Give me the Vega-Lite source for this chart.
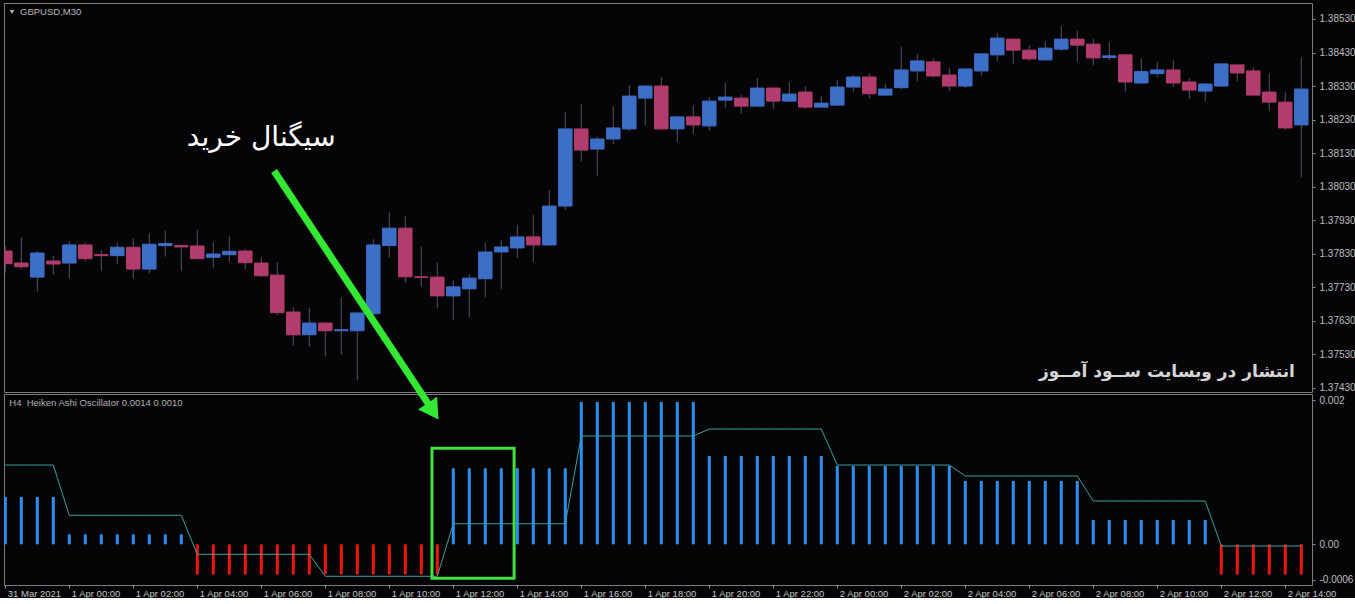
{
  "$schema": "https://vega.github.io/schema/vega-lite/v6.json",
  "background": "#050507",
  "padding": {"left": 2, "top": 2, "right": 0, "bottom": 0},
  "spacing": 2,
  "bounds": "flush",
  "config": {
    "view": {"stroke": "#7c7c7c", "strokeWidth": 1},
    "font": "Liberation Sans",
    "axis": {"labelOverlap": false}
  },
  "datasets": {
    "bars": [
      {"t":"2021-03-31T22:00","o":1.37838,"h":1.37853,"l":1.37773,"c":1.37800,"osc":0.000657,"sig":0.001101},
      {"t":"2021-03-31T22:30","o":1.37802,"h":1.37878,"l":1.37783,"c":1.37791,"osc":0.000657,"sig":0.001101},
      {"t":"2021-03-31T23:00","o":1.37760,"h":1.37838,"l":1.37717,"c":1.37832,"osc":0.000657,"sig":0.001101},
      {"t":"2021-03-31T23:30","o":1.37808,"h":1.37823,"l":1.37768,"c":1.37799,"osc":0.000657,"sig":0.001101},
      {"t":"2021-04-01T00:00","o":1.37802,"h":1.37868,"l":1.37757,"c":1.37856,"osc":0.000139,"sig":0.000403},
      {"t":"2021-04-01T00:30","o":1.37856,"h":1.37864,"l":1.37806,"c":1.37815,"osc":0.000139,"sig":0.000403},
      {"t":"2021-04-01T01:00","o":1.37827,"h":1.37840,"l":1.37778,"c":1.37824,"osc":0.000139,"sig":0.000403},
      {"t":"2021-04-01T01:30","o":1.37824,"h":1.37864,"l":1.37798,"c":1.37849,"osc":0.000139,"sig":0.000403},
      {"t":"2021-04-01T02:00","o":1.37849,"h":1.37876,"l":1.37755,"c":1.37784,"osc":0.000139,"sig":0.000403},
      {"t":"2021-04-01T02:30","o":1.37784,"h":1.37891,"l":1.37772,"c":1.37858,"osc":0.000139,"sig":0.000403},
      {"t":"2021-04-01T03:00","o":1.37854,"h":1.37898,"l":1.37821,"c":1.37860,"osc":0.000139,"sig":0.000403},
      {"t":"2021-04-01T03:30","o":1.37854,"h":1.37855,"l":1.37778,"c":1.37850,"osc":0.000139,"sig":0.000403},
      {"t":"2021-04-01T04:00","o":1.37853,"h":1.37901,"l":1.37813,"c":1.37815,"osc":-0.000417,"sig":-0.000139},
      {"t":"2021-04-01T04:30","o":1.37819,"h":1.37864,"l":1.37788,"c":1.37829,"osc":-0.000417,"sig":-0.000139},
      {"t":"2021-04-01T05:00","o":1.37827,"h":1.37883,"l":1.37806,"c":1.37837,"osc":-0.000417,"sig":-0.000139},
      {"t":"2021-04-01T05:30","o":1.37838,"h":1.37843,"l":1.37784,"c":1.37803,"osc":-0.000417,"sig":-0.000139},
      {"t":"2021-04-01T06:00","o":1.37802,"h":1.37820,"l":1.37760,"c":1.37764,"osc":-0.000417,"sig":-0.000139},
      {"t":"2021-04-01T06:30","o":1.37766,"h":1.37805,"l":1.37647,"c":1.37654,"osc":-0.000417,"sig":-0.000139},
      {"t":"2021-04-01T07:00","o":1.37656,"h":1.37671,"l":1.37555,"c":1.37588,"osc":-0.000417,"sig":-0.000139},
      {"t":"2021-04-01T07:30","o":1.37588,"h":1.37669,"l":1.37552,"c":1.37623,"osc":-0.000417,"sig":-0.000139},
      {"t":"2021-04-01T08:00","o":1.37623,"h":1.37623,"l":1.37523,"c":1.37600,"osc":-0.000417,"sig":-0.000444},
      {"t":"2021-04-01T08:30","o":1.37600,"h":1.37699,"l":1.37528,"c":1.37603,"osc":-0.000417,"sig":-0.000444},
      {"t":"2021-04-01T09:00","o":1.37600,"h":1.37656,"l":1.37452,"c":1.37653,"osc":-0.000417,"sig":-0.000444},
      {"t":"2021-04-01T09:30","o":1.37651,"h":1.37873,"l":1.37609,"c":1.37856,"osc":-0.000417,"sig":-0.000444},
      {"t":"2021-04-01T10:00","o":1.37854,"h":1.37954,"l":1.37818,"c":1.37906,"osc":-0.000417,"sig":-0.000444},
      {"t":"2021-04-01T10:30","o":1.37906,"h":1.37942,"l":1.37743,"c":1.37761,"osc":-0.000417,"sig":-0.000444},
      {"t":"2021-04-01T11:00","o":1.37761,"h":1.37850,"l":1.37731,"c":1.37759,"osc":-0.000417,"sig":-0.000444},
      {"t":"2021-04-01T11:30","o":1.37760,"h":1.37803,"l":1.37667,"c":1.37704,"osc":-0.000417,"sig":-0.000444},
      {"t":"2021-04-01T12:00","o":1.37704,"h":1.37751,"l":1.37631,"c":1.37731,"osc":0.001056,"sig":0.000286},
      {"t":"2021-04-01T12:30","o":1.37725,"h":1.37769,"l":1.37641,"c":1.37757,"osc":0.001056,"sig":0.000286},
      {"t":"2021-04-01T13:00","o":1.37755,"h":1.37862,"l":1.37701,"c":1.37835,"osc":0.001056,"sig":0.000286},
      {"t":"2021-04-01T13:30","o":1.37835,"h":1.37871,"l":1.37725,"c":1.37850,"osc":0.001056,"sig":0.000286},
      {"t":"2021-04-01T14:00","o":1.37847,"h":1.37916,"l":1.37817,"c":1.37880,"osc":0.001056,"sig":0.000286},
      {"t":"2021-04-01T14:30","o":1.37880,"h":1.37945,"l":1.37805,"c":1.37856,"osc":0.001056,"sig":0.000286},
      {"t":"2021-04-01T15:00","o":1.37856,"h":1.38020,"l":1.37853,"c":1.37972,"osc":0.001056,"sig":0.000286},
      {"t":"2021-04-01T15:30","o":1.37972,"h":1.38253,"l":1.37960,"c":1.38202,"osc":0.001056,"sig":0.000286},
      {"t":"2021-04-01T16:00","o":1.38202,"h":1.38277,"l":1.38106,"c":1.38139,"osc":0.001976,"sig":0.001504},
      {"t":"2021-04-01T16:30","o":1.38142,"h":1.38179,"l":1.38062,"c":1.38172,"osc":0.001976,"sig":0.001504},
      {"t":"2021-04-01T17:00","o":1.38172,"h":1.38268,"l":1.38157,"c":1.38205,"osc":0.001976,"sig":0.001504},
      {"t":"2021-04-01T17:30","o":1.38202,"h":1.38333,"l":1.38196,"c":1.38300,"osc":0.001976,"sig":0.001504},
      {"t":"2021-04-01T18:00","o":1.38294,"h":1.38331,"l":1.38214,"c":1.38330,"osc":0.001976,"sig":0.001504},
      {"t":"2021-04-01T18:30","o":1.38330,"h":1.38357,"l":1.38199,"c":1.38202,"osc":0.001976,"sig":0.001504},
      {"t":"2021-04-01T19:00","o":1.38202,"h":1.38241,"l":1.38163,"c":1.38238,"osc":0.001976,"sig":0.001504},
      {"t":"2021-04-01T19:30","o":1.38238,"h":1.38271,"l":1.38187,"c":1.38214,"osc":0.001976,"sig":0.001504},
      {"t":"2021-04-01T20:00","o":1.38211,"h":1.38297,"l":1.38196,"c":1.38285,"osc":0.001226,"sig":0.001601},
      {"t":"2021-04-01T20:30","o":1.38288,"h":1.38339,"l":1.38265,"c":1.38297,"osc":0.001226,"sig":0.001601},
      {"t":"2021-04-01T21:00","o":1.38294,"h":1.38303,"l":1.38247,"c":1.38270,"osc":0.001226,"sig":0.001601},
      {"t":"2021-04-01T21:30","o":1.38270,"h":1.38354,"l":1.38270,"c":1.38324,"osc":0.001226,"sig":0.001601},
      {"t":"2021-04-01T22:00","o":1.38324,"h":1.38327,"l":1.38262,"c":1.38285,"osc":0.001226,"sig":0.001601},
      {"t":"2021-04-01T22:30","o":1.38285,"h":1.38342,"l":1.38282,"c":1.38306,"osc":0.001226,"sig":0.001601},
      {"t":"2021-04-01T23:00","o":1.38312,"h":1.38330,"l":1.38262,"c":1.38267,"osc":0.001226,"sig":0.001601},
      {"t":"2021-04-01T23:30","o":1.38267,"h":1.38300,"l":1.38267,"c":1.38279,"osc":0.001226,"sig":0.001601},
      {"t":"2021-04-02T00:00","o":1.38273,"h":1.38348,"l":1.38273,"c":1.38327,"osc":0.001088,"sig":0.001101},
      {"t":"2021-04-02T00:30","o":1.38327,"h":1.38363,"l":1.38312,"c":1.38357,"osc":0.001088,"sig":0.001101},
      {"t":"2021-04-02T01:00","o":1.38357,"h":1.38367,"l":1.38293,"c":1.38307,"osc":0.001088,"sig":0.001101},
      {"t":"2021-04-02T01:30","o":1.38303,"h":1.38337,"l":1.38303,"c":1.38321,"osc":0.001088,"sig":0.001101},
      {"t":"2021-04-02T02:00","o":1.38325,"h":1.38446,"l":1.38320,"c":1.38378,"osc":0.001088,"sig":0.001101},
      {"t":"2021-04-02T02:30","o":1.38375,"h":1.38426,"l":1.38345,"c":1.38405,"osc":0.001088,"sig":0.001101},
      {"t":"2021-04-02T03:00","o":1.38402,"h":1.38413,"l":1.38355,"c":1.38360,"osc":0.001088,"sig":0.001101},
      {"t":"2021-04-02T03:30","o":1.38363,"h":1.38385,"l":1.38315,"c":1.38330,"osc":0.001088,"sig":0.001101},
      {"t":"2021-04-02T04:00","o":1.38330,"h":1.38381,"l":1.38325,"c":1.38381,"osc":0.000879,"sig":0.000949},
      {"t":"2021-04-02T04:30","o":1.38375,"h":1.38426,"l":1.38360,"c":1.38426,"osc":0.000879,"sig":0.000949},
      {"t":"2021-04-02T05:00","o":1.38423,"h":1.38488,"l":1.38405,"c":1.38473,"osc":0.000879,"sig":0.000949},
      {"t":"2021-04-02T05:30","o":1.38470,"h":1.38470,"l":1.38396,"c":1.38437,"osc":0.000879,"sig":0.000949},
      {"t":"2021-04-02T06:00","o":1.38437,"h":1.38452,"l":1.38405,"c":1.38411,"osc":0.000879,"sig":0.000949},
      {"t":"2021-04-02T06:30","o":1.38408,"h":1.38464,"l":1.38405,"c":1.38443,"osc":0.000879,"sig":0.000949},
      {"t":"2021-04-02T07:00","o":1.38440,"h":1.38509,"l":1.38435,"c":1.38470,"osc":0.000879,"sig":0.000949},
      {"t":"2021-04-02T07:30","o":1.38470,"h":1.38494,"l":1.38403,"c":1.38452,"osc":0.000879,"sig":0.000949},
      {"t":"2021-04-02T08:00","o":1.38455,"h":1.38470,"l":1.38393,"c":1.38414,"osc":0.000338,"sig":0.000601},
      {"t":"2021-04-02T08:30","o":1.38415,"h":1.38461,"l":1.38406,"c":1.38420,"osc":0.000338,"sig":0.000601},
      {"t":"2021-04-02T09:00","o":1.38423,"h":1.38423,"l":1.38312,"c":1.38342,"osc":0.000338,"sig":0.000601},
      {"t":"2021-04-02T09:30","o":1.38339,"h":1.38411,"l":1.38339,"c":1.38373,"osc":0.000338,"sig":0.000601},
      {"t":"2021-04-02T10:00","o":1.38367,"h":1.38402,"l":1.38357,"c":1.38378,"osc":0.000338,"sig":0.000601},
      {"t":"2021-04-02T10:30","o":1.38378,"h":1.38408,"l":1.38327,"c":1.38339,"osc":0.000338,"sig":0.000601},
      {"t":"2021-04-02T11:00","o":1.38342,"h":1.38354,"l":1.38291,"c":1.38318,"osc":0.000338,"sig":0.000601},
      {"t":"2021-04-02T11:30","o":1.38315,"h":1.38339,"l":1.38285,"c":1.38336,"osc":0.000338,"sig":0.000601},
      {"t":"2021-04-02T12:00","o":1.38330,"h":1.38399,"l":1.38327,"c":1.38396,"osc":-0.000417,"sig":-0.000024},
      {"t":"2021-04-02T12:30","o":1.38393,"h":1.38393,"l":1.38345,"c":1.38369,"osc":-0.000417,"sig":-0.000024},
      {"t":"2021-04-02T13:00","o":1.38375,"h":1.38387,"l":1.38303,"c":1.38303,"osc":-0.000417,"sig":-0.000024},
      {"t":"2021-04-02T13:30","o":1.38312,"h":1.38366,"l":1.38255,"c":1.38282,"osc":-0.000417,"sig":-0.000024},
      {"t":"2021-04-02T14:00","o":1.38282,"h":1.38312,"l":1.38199,"c":1.38205,"osc":-0.000417,"sig":-0.000024},
      {"t":"2021-04-02T14:30","o":1.38214,"h":1.38417,"l":1.38059,"c":1.38321,"osc":-0.000417,"sig":-0.000024}
    ],
    "toptext": [
      {"t":"2021-04-01T06:00","p":1.38175,"label":"سیگنال خرید","kind":"signal"},
      {"t":"2021-04-02T14:18","p":1.37477,"label":"انتشار در وبسایت ســود آمــوز","kind":"mark"},
      {"t":"2021-03-31T22:27:36","p":1.38551,"label":"GBPUSD,M30","kind":"sym"}
    ],
    "symtri": [
      {"t":"2021-03-31T22:12:36","p":1.38551}
    ],
    "arrowline": [
      {"t1":"2021-04-01T06:24","v1":0.005185,"t2":"2021-04-01T11:16","v2":0.001919}
    ],
    "arrowhead": [
      {"t":"2021-04-01T11:22","v":0.001846}
    ],
    "box": [
      {"t1":"2021-04-01T11:20","t2":"2021-04-01T13:54","v1":0.001333,"v2":-0.000472}
    ],
    "osclabel": [
      {"t":"2021-03-31T22:07:30","v":0.001967,"label":"H4\u00a0 Heiken Ashi Oscillator 0.0014 0.0010"}
    ]
  },
  "vconcat": [
    {
      "width": 1308,
      "height": 389,
      "layer": [
        {
          "data": {"name": "bars"},
          "mark": {"type": "rule", "color": "#4e5466", "strokeWidth": 1, "clip": true},
          "encoding": {
            "x": {"field": "t", "type": "temporal",
                  "scale": {"domain": [{"year":2021,"month":3,"date":31,"hours":21,"minutes":57,"seconds":34},{"year":2021,"month":4,"date":2,"hours":14,"minutes":50,"seconds":6}], "nice": false, "padding": 0},
                  "axis": null},
            "y": {"field": "l", "type": "quantitative",
                  "scale": {"domain": [1.374173, 1.385777], "nice": false, "zero": false, "padding": 0},
                  "axis": {"orient": "right", "title": null, "grid": false, "domain": false,
                           "values": [1.3853,1.3843,1.3833,1.3823,1.3813,1.3803,1.3793,1.3783,1.3773,1.3763,1.3753,1.3743],
                           "tickCount": 30,
                           "labelExpr": "format(datum.value, '.5f')", "tickSize": 3, "tickColor": "#8a8a8a",
                           "labelOverlap": false, "labelSeparation": 0, "labelBound": false, "labelFlush": false,
                           "labelColor": "#bdbdbd", "labelFont": "Liberation Sans", "labelFontSize": 10, "labelPadding": 4}},
            "y2": {"field": "h"}
          }
        },
        {
          "data": {"name": "bars"},
          "mark": {"type": "bar", "width": 13.5, "strokeWidth": 1, "clip": true},
          "encoding": {
            "x": {"field": "t", "type": "temporal", "axis": null},
            "y": {"field": "o", "type": "quantitative"},
            "y2": {"field": "c"},
            "color": {"condition": {"test": "datum.c >= datum.o", "value": "#3d6ec8"}, "value": "#b23c6e"},
            "stroke": {"condition": {"test": "datum.c >= datum.o", "value": "#3d6ec8"}, "value": "#b23c6e"}
          }
        },
        {
          "data": {"name": "symtri"},
          "mark": {"type": "point", "shape": "triangle-down", "filled": true, "size": 22, "color": "#b0b0b0", "opacity": 1},
          "encoding": {
            "x": {"field": "t", "type": "temporal", "axis": null},
            "y": {"field": "p", "type": "quantitative"}
          }
        },
        {
          "data": {"name": "toptext"},
          "transform": [{"filter": "datum.kind == 'sym'"}],
          "mark": {"type": "text", "align": "left", "baseline": "middle", "font": "Liberation Sans", "fontSize": 9.5, "color": "#b8b8b8"},
          "encoding": {
            "x": {"field": "t", "type": "temporal", "axis": null},
            "y": {"field": "p", "type": "quantitative"},
            "text": {"field": "label"}
          }
        },
        {
          "data": {"name": "toptext"},
          "transform": [{"filter": "datum.kind == 'signal'"}],
          "mark": {"type": "text", "align": "center", "baseline": "middle", "font": "DejaVu Sans", "fontSize": 28, "color": "#ffffff"},
          "encoding": {
            "x": {"field": "t", "type": "temporal", "axis": null},
            "y": {"field": "p", "type": "quantitative"},
            "text": {"field": "label"}
          }
        },
        {
          "data": {"name": "toptext"},
          "transform": [{"filter": "datum.kind == 'mark'"}],
          "mark": {"type": "text", "align": "right", "baseline": "middle", "font": "DejaVu Sans", "fontSize": 17, "fontWeight": "bold", "color": "#d6d6d6"},
          "encoding": {
            "x": {"field": "t", "type": "temporal", "axis": null},
            "y": {"field": "p", "type": "quantitative"},
            "text": {"field": "label"}
          }
        }
      ]
    },
    {
      "width": 1308,
      "height": 191,
      "layer": [
        {
          "data": {"name": "bars"},
          "mark": {"type": "bar", "width": 3, "clip": true},
          "encoding": {
            "x": {"field": "t", "type": "temporal",
                  "scale": {"domain": [{"year":2021,"month":3,"date":31,"hours":21,"minutes":57,"seconds":34},{"year":2021,"month":4,"date":2,"hours":14,"minutes":50,"seconds":6}], "nice": false, "padding": 0},
                  "axis": {"orient": "bottom", "title": null, "grid": false, "domain": false,
                           "values": [
                             {"year":2021,"month":3,"date":31,"hours":22},
                             {"year":2021,"month":4,"date":1,"hours":0},
                             {"year":2021,"month":4,"date":1,"hours":2},
                             {"year":2021,"month":4,"date":1,"hours":4},
                             {"year":2021,"month":4,"date":1,"hours":6},
                             {"year":2021,"month":4,"date":1,"hours":8},
                             {"year":2021,"month":4,"date":1,"hours":10},
                             {"year":2021,"month":4,"date":1,"hours":12},
                             {"year":2021,"month":4,"date":1,"hours":14},
                             {"year":2021,"month":4,"date":1,"hours":16},
                             {"year":2021,"month":4,"date":1,"hours":18},
                             {"year":2021,"month":4,"date":1,"hours":20},
                             {"year":2021,"month":4,"date":1,"hours":22},
                             {"year":2021,"month":4,"date":2,"hours":0},
                             {"year":2021,"month":4,"date":2,"hours":2},
                             {"year":2021,"month":4,"date":2,"hours":4},
                             {"year":2021,"month":4,"date":2,"hours":6},
                             {"year":2021,"month":4,"date":2,"hours":8},
                             {"year":2021,"month":4,"date":2,"hours":10},
                             {"year":2021,"month":4,"date":2,"hours":12},
                             {"year":2021,"month":4,"date":2,"hours":14}
                           ],
                           "tickCount": 60,
                           "labelExpr": "timeFormat(datum.value, '%d') == '31' ? '31 Mar 2021' : timeFormat(datum.value, '%-d %b %H:%M')",
                           "labelAlign": "left", "labelOffset": 2, "labelBaseline": "top",
                           "tickSize": 3, "tickColor": "#8a8a8a", "labelPadding": 0,
                           "labelOverlap": false, "labelFlush": false, "labelBound": false,
                           "labelColor": "#c4c4c4", "labelFont": "Liberation Sans", "labelFontSize": 9.5}},
            "y": {"field": "osc", "type": "quantitative",
                  "scale": {"domain": [-0.000565, 0.0020875], "nice": false, "zero": false, "padding": 0},
                  "axis": {"orient": "right", "title": null, "grid": false, "domain": false,
                           "values": [0.002, 0, -0.000492],
                           "tickCount": 10,
                           "labelExpr": "datum.value > 0.001 ? '0.002' : (datum.value < -0.0001 ? '-0.0006' : '0.00')",
                           "tickSize": 3, "tickColor": "#8a8a8a", "labelOverlap": false, "labelBound": false, "labelFlush": false,
                           "labelColor": "#bdbdbd", "labelFont": "Liberation Sans", "labelFontSize": 10, "labelPadding": 4}},
            "y2": {"datum": 0},
            "color": {"condition": {"test": "datum.osc >= 0", "value": "#2b8ef0"}, "value": "#ee1515"}
          }
        },
        {
          "data": {"name": "bars"},
          "mark": {"type": "line", "color": "#3d9e9e", "strokeWidth": 1},
          "encoding": {
            "x": {"field": "t", "type": "temporal"},
            "y": {"field": "sig", "type": "quantitative"}
          }
        },
        {
          "data": {"name": "box"},
          "mark": {"type": "rect", "filled": false, "stroke": "#3fe03f", "strokeWidth": 3},
          "encoding": {
            "x": {"field": "t1", "type": "temporal"},
            "x2": {"field": "t2"},
            "y": {"field": "v1", "type": "quantitative"},
            "y2": {"field": "v2"}
          }
        },
        {
          "data": {"name": "osclabel"},
          "mark": {"type": "text", "align": "left", "baseline": "middle", "font": "Liberation Sans", "fontSize": 9.5, "color": "#b0b0b0"},
          "encoding": {
            "x": {"field": "t", "type": "temporal"},
            "y": {"field": "v", "type": "quantitative"},
            "text": {"field": "label"}
          }
        },
        {
          "data": {"name": "arrowline"},
          "mark": {"type": "rule", "color": "#33e833", "strokeWidth": 7},
          "encoding": {
            "x": {"field": "t1", "type": "temporal"},
            "x2": {"field": "t2"},
            "y": {"field": "v1", "type": "quantitative"},
            "y2": {"field": "v2"}
          }
        },
        {
          "data": {"name": "arrowhead"},
          "mark": {"type": "point", "shape": "triangle-down", "filled": true, "size": 520, "angle": -33.5, "color": "#33e833", "opacity": 1},
          "encoding": {
            "x": {"field": "t", "type": "temporal"},
            "y": {"field": "v", "type": "quantitative"}
          }
        }
      ]
    }
  ]
}
